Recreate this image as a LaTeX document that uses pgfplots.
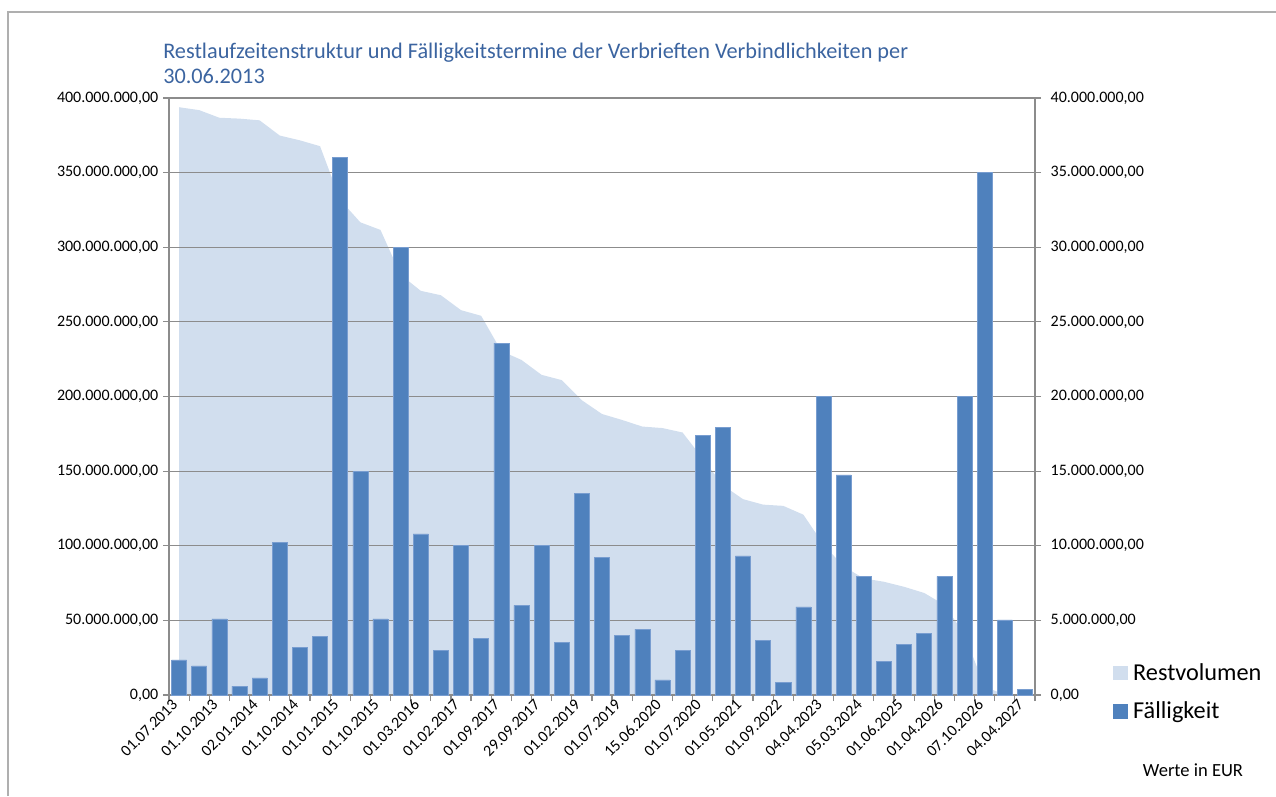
\documentclass[border=0pt]{standalone}
\usepackage{pgfplots}
\pgfplotsset{compat=1.18}
\usepackage{fontspec}
\setmainfont{Carlito}
\definecolor{barblue}{RGB}{79,129,189}
\definecolor{baredge}{RGB}{120,157,208}
\definecolor{areablue}{RGB}{209,222,238}
\definecolor{gridgray}{RGB}{140,140,140}
\definecolor{titleblue}{RGB}{59,100,160}
\definecolor{framegray}{RGB}{175,175,175}
\begin{document}
\begin{tikzpicture}
\path[use as bounding box] (0,0) rectangle (957pt,597pt);
\draw[framegray, line width=1.5pt] (6pt,0pt) -- (6pt,588pt) -- (957pt,588pt);
\node[anchor=base west, inner sep=0pt, text=titleblue, font=\fontsize{16.7}{20}\selectfont] at (122.25pt,552.75pt) {Restlaufzeitenstruktur und Fälligkeitstermine der Verbrieften Verbindlichkeiten per};
\node[anchor=base west, inner sep=0pt, text=titleblue, font=\fontsize{16.7}{20}\selectfont] at (122.25pt,534pt) {30.06.2013};
\node[anchor=west, inner sep=0pt, font=\fontsize{13.9}{16}\selectfont] at (857pt,19.5pt) {Werte in EUR};

\begin{axis}[
  at={(126.75pt,75.75pt)}, anchor=south west,
  width=649.5pt, height=447.75pt, scale only axis,
  xmin=-0.5, xmax=42.5, ymin=0, ymax=400,
  axis on top,
  axis line style={gridgray, line width=0.9pt},
  ymajorgrids, grid style={gridgray, line width=0.9pt},
  ytick={0,50,...,400},
  yticklabels={{0,00},{50.000.000,00},{100.000.000,00},{150.000.000,00},{200.000.000,00},{250.000.000,00},{300.000.000,00},{350.000.000,00},{400.000.000,00}},
  xtick={0,2,...,42},
  xticklabels={01.07.2013,01.10.2013,02.01.2014,01.10.2014,01.01.2015,01.10.2015,01.03.2016,01.02.2017,01.09.2017,29.09.2017,01.02.2019,01.07.2019,15.06.2020,01.07.2020,01.05.2021,01.09.2022,04.04.2023,05.03.2024,01.06.2025,01.04.2026,07.10.2026,04.04.2027},
  minor xtick={-0.5,0.5,...,42.5},
  major x tick style={draw=none},
  tick style={gridgray, line width=0.9pt},
  tick align=outside,
  major tick length=4.5pt, minor tick length=4.5pt,
  xtick pos=bottom, ytick pos=left,
  tick label style={font=\fontsize{12}{14}\selectfont},
  xticklabel style={xshift=-6pt, yshift=3.5pt, rotate=45, anchor=north east, inner sep=1pt},
  legend style={at={(axis description cs:1.085,0.062)}, anchor=north west, draw=none, fill=none,
    font=\fontsize{18.2}{21}\selectfont, row sep=10.5pt, cells={anchor=west},
    /tikz/every odd column/.append style={column sep=2pt}},
  legend image code/.code={\path[#1] (0pt,-5.6pt) rectangle (11.25pt,5.6pt);},
]
\addplot[fill=areablue, draw=none, forget plot] coordinates {
(0,393.82) (1,391.87) (2,386.77) (3,386.18) (4,385.03) (5,374.83) (6,371.63) (7,367.71)
(8,331.71) (9,316.71) (10,311.61) (11,281.61) (12,270.81) (13,267.84) (14,257.84) (15,254.07)
(16,230.50) (17,224.50) (18,214.50) (19,210.98) (20,197.48) (21,188.28) (22,184.27) (23,179.86)
(24,178.85) (25,175.88) (26,158.47) (27,140.55) (28,131.23) (29,127.55) (30,126.72) (31,120.82)
(32,100.82) (33,86.07) (34,78.12) (35,75.87) (36,72.50) (37,68.35) (38,60.40) (39,40.40)
(40,5.40) (41,0.37) (42,0.00)
} \closedcycle;
\addlegendimage{fill=areablue, draw=none}
\addlegendentry{Restvolumen}
\addlegendimage{fill=barblue, draw=none}
\addlegendentry{Fälligkeit}
\end{axis}

\begin{axis}[
  at={(126.75pt,75.75pt)}, anchor=south west,
  width=649.5pt, height=447.75pt, scale only axis,
  xmin=-0.5, xmax=42.5, ymin=0, ymax=40,
  axis x line=none, axis y line=right,
  y axis line style={-, gridgray, line width=0.9pt},
  ybar, bar width=0.745,
  ytick={0,5,...,40},
  yticklabels={{0,00},{5.000.000,00},{10.000.000,00},{15.000.000,00},{20.000.000,00},{25.000.000,00},{30.000.000,00},{35.000.000,00},{40.000.000,00}},
  tick style={gridgray, line width=0.9pt},
  tick align=outside, major tick length=4.5pt,
  ytick pos=right,
  tick label style={font=\fontsize{12}{14}\selectfont},
  yticklabel style={anchor=west, xshift=3.75pt},
]
\addplot[fill=barblue, draw=baredge, line width=0.4pt] coordinates {
(0,2.35) (1,1.95) (2,5.10) (3,0.59) (4,1.15) (5,10.2) (6,3.20) (7,3.92)
(8,36.0) (9,15.0) (10,5.10) (11,30.0) (12,10.8) (13,2.97) (14,10.0) (15,3.77)
(16,23.57) (17,6.00) (18,10.0) (19,3.52) (20,13.5) (21,9.20) (22,4.01) (23,4.41)
(24,1.01) (25,2.97) (26,17.41) (27,17.92) (28,9.32) (29,3.68) (30,0.83) (31,5.90)
(32,20.0) (33,14.75) (34,7.95) (35,2.25) (36,3.37) (37,4.15) (38,7.95) (39,20.0)
(40,35.0) (41,5.03) (42,0.37)
};
\end{axis}
\end{tikzpicture}
\end{document}
